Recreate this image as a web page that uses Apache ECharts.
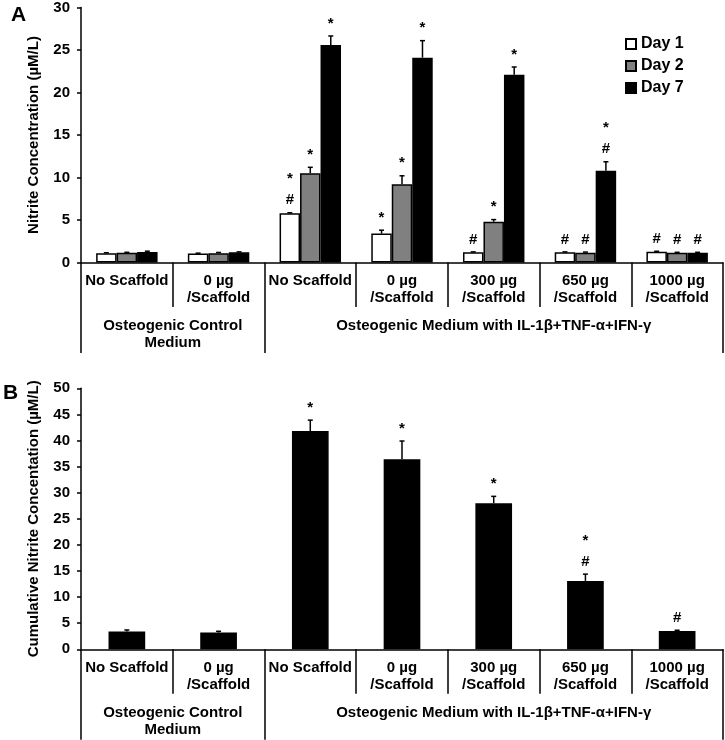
<!DOCTYPE html>
<html><head><meta charset="utf-8">
<script src="https://cdn.jsdelivr.net/npm/echarts@6/dist/echarts.min.js"></script>
<style>html,body{margin:0;padding:0;background:#fff}#c{width:725px;height:740px}</style>
</head><body><div id="c"></div><script>
// ---- data ----
const categories = ['No Scaffold', '0 µg\n/Scaffold', 'No Scaffold', '0 µg\n/Scaffold', '300 µg\n/Scaffold', '650 µg\n/Scaffold', '1000 µg\n/Scaffold'];
const groupLabels = ['Osteogenic Control\nMedium', 'Osteogenic Medium with IL-1β+TNF-α+IFN-γ'];
const groupBounds = [0, 2, 7];
const groupCenters = [1, 4.5];
const seriesNames = ['Day 1', 'Day 2', 'Day 7'];
const day1 = [1.1, 1.05, 5.8, 3.4, 1.2, 1.2, 1.27];
const day1Err = [0.05, 0.05, 0.05, 0.4, 0.05, 0.05, 0.05];
const day1Mark = ['', '', '*\n#', '*', '#', '#', '#'];
const day2 = [1.15, 1.1, 10.5, 9.2, 4.8, 1.15, 1.15];
const day2Err = [0.05, 0.08, 0.7, 1.0, 0.25, 0.08, 0.05];
const day2Mark = ['', '', '*', '*', '*', '#', '#'];
const day7 = [1.25, 1.2, 25.6, 24.1, 22.1, 10.8, 1.15];
const day7Err = [0.08, 0.05, 1.05, 2.0, 0.9, 1.05, 0.05];
const day7Mark = ['', '', '*', '*', '*', '*\n#', '#'];
const cumulative = [3.4, 3.2, 41.8, 36.4, 28.0, 13.1, 3.5];
const cumulativeErr = [0.3, 0.25, 2.1, 3.5, 1.3, 1.3, 0.15];
const cumulativeMark = ['', '', '*', '*', '*', '*\n#', '#'];
const yAxisA = { min: 0, max: 30, interval: 5, name: 'Nitrite Concentration (µM/L)' };
const yAxisB = { min: 0, max: 50, interval: 5, name: 'Cumulative Nitrite Concentation (µM/L)' };

// ---- styling ----
const FF = '"Liberation Sans", Arial, sans-serif';
const colors = ['#ffffff', '#808080', '#000000'];
const GAP_A = 0.33, GAP_B = 0.60;

function catAxis(gi) {
  return {
    type: 'category', gridIndex: gi, data: categories, position: 'bottom',
    axisLine: { lineStyle: { color: '#000', width: 1.5 } },
    axisTick: { show: true, length: 44.5, alignWithLabel: false, lineStyle: { color: '#000', width: 1.5 } },
    axisLabel: { interval: 0, margin: 10, color: '#000', fontWeight: 'bold', fontSize: 15, fontFamily: FF, lineHeight: 17 },
    splitLine: { show: false }
  };
}
function groupAxis(gi) {
  return {
    type: 'value', gridIndex: gi, min: 0, max: 7, position: 'bottom',
    axisLine: { show: false },
    splitLine: { show: false },
    axisTick: { show: true, customValues: groupBounds, length: 90.5, lineStyle: { color: '#000', width: 1.5 } },
    axisLabel: { customValues: groupCenters, margin: 55, color: '#000', fontWeight: 'bold', fontSize: 15, fontFamily: FF, lineHeight: 17,
      formatter: v => groupLabels[groupCenters.indexOf(v)] }
  };
}
function valAxis(gi, cfg) {
  return {
    type: 'value', gridIndex: gi, min: cfg.min, max: cfg.max, interval: cfg.interval,
    name: cfg.name, nameLocation: 'middle', nameGap: 40,
    nameTextStyle: { color: '#000', fontWeight: 'bold', fontSize: 15, fontFamily: FF },
    axisLine: { show: true, lineStyle: { color: '#000', width: 1.5 } },
    axisTick: { show: true, length: 4, lineStyle: { color: '#000', width: 1.5 } },
    axisLabel: { margin: 11, color: '#000', fontWeight: 'bold', fontSize: 15, fontFamily: FF },
    splitLine: { show: false }
  };
}
function errSeries(xi, yi, vals, errs, marks, k, n, gap) {
  return {
    type: 'custom', xAxisIndex: xi, yAxisIndex: yi, z: 10, silent: true,
    data: vals.map((v, i) => [i, v, errs[i]]),
    encode: { x: 0, y: 1 },
    renderItem(params, api) {
      const i = params.dataIndex;
      const bw = api.size([1, 0])[0];
      const barW = bw * (1 - gap) / n;
      const base = api.coord([api.value(0), api.value(1)]);
      const x = base[0] + (k - (n - 1) / 2) * barW;
      const top = api.coord([api.value(0), api.value(1) + api.value(2)])[1];
      const children = [
        { type: 'line', shape: { x1: x, y1: base[1], x2: x, y2: top }, style: { stroke: '#000', lineWidth: 1.5 } },
        { type: 'line', shape: { x1: x - 2.5, y1: top, x2: x + 2.5, y2: top }, style: { stroke: '#000', lineWidth: 1.5 } }
      ];
      if (marks[i]) {
        children.push({ type: 'text', x: x, y: top - 2,
          style: { text: marks[i], font: 'bold 15px ' + FF, fill: '#000', align: 'center', verticalAlign: 'bottom', lineHeight: 21 } });
      }
      return { type: 'group', children };
    }
  };
}
function barSeries(name, vals, color, xi, yi, gap) {
  return {
    type: 'bar', name: name, xAxisIndex: xi, yAxisIndex: yi, data: vals,
    barGap: '0%', barCategoryGap: (gap * 100) + '%',
    itemStyle: { color: color, borderColor: '#000', borderWidth: 1.5 }
  };
}

const chart = echarts.init(document.getElementById('c'), null, { renderer: 'canvas' });
chart.setOption({
  animation: false,
  backgroundColor: '#fff',
  title: [
    { text: 'A', left: 11, top: 5, padding: 0, textStyle: { fontSize: 21, fontWeight: 'bold', fontFamily: FF, color: '#000' } },
    { text: 'B', left: 3, top: 383, padding: 0, textStyle: { fontSize: 21, fontWeight: 'bold', fontFamily: FF, color: '#000' } }
  ],
  legend: {
    data: seriesNames, orient: 'vertical', left: 625, top: 35, padding: 0, itemWidth: 10, itemHeight: 10, itemGap: 4,
    icon: 'rect',
    textStyle: { color: '#000', fontWeight: 'bold', fontSize: 16, fontFamily: FF, lineHeight: 18 }
  },
  grid: [
    { left: 81, right: 2, top: 7, height: 255.5 },
    { left: 81, right: 2, top: 388.3, height: 261 }
  ],
  xAxis: [catAxis(0), groupAxis(0), catAxis(1), groupAxis(1)],
  yAxis: [valAxis(0, yAxisA), valAxis(1, yAxisB)],
  series: [
    barSeries(seriesNames[0], day1, colors[0], 0, 0, GAP_A),
    barSeries(seriesNames[1], day2, colors[1], 0, 0, GAP_A),
    barSeries(seriesNames[2], day7, colors[2], 0, 0, GAP_A),
    errSeries(0, 0, day1, day1Err, day1Mark, 0, 3, GAP_A),
    errSeries(0, 0, day2, day2Err, day2Mark, 1, 3, GAP_A),
    errSeries(0, 0, day7, day7Err, day7Mark, 2, 3, GAP_A),
    barSeries('Cumulative', cumulative, '#000', 2, 1, GAP_B),
    errSeries(2, 1, cumulative, cumulativeErr, cumulativeMark, 0, 1, GAP_B)
  ]
});
</script></body></html>
